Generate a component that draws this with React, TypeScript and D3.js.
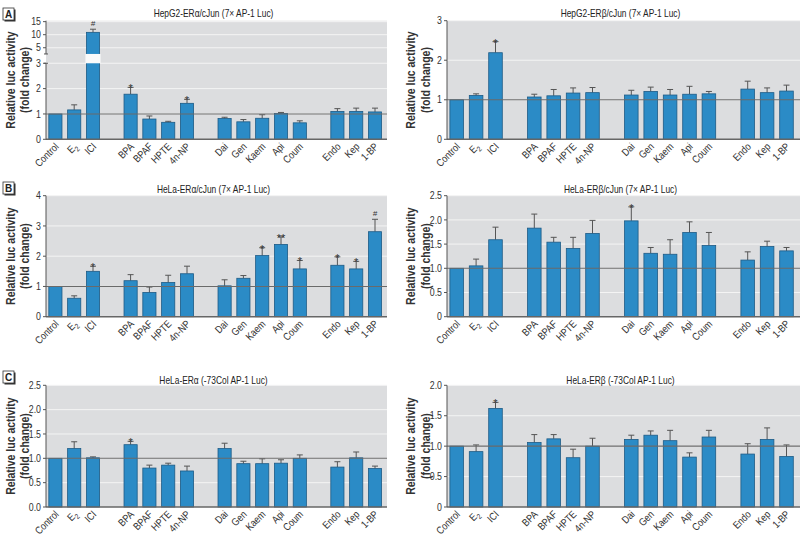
import React from "react";
import * as d3 from "d3";

const groups = [
  ["Control", "E2", "ICI"],
  ["BPA", "BPAF", "HPTE", "4n-NP"],
  ["Dai", "Gen", "Kaem", "Api", "Coum"],
  ["Endo", "Kep", "1-BP"],
];

// Panel A left: HepG2-ERα/cJun
const hepg2AlphaVals = [1.0, 1.16, 10.9, 1.78, 0.8, 0.67, 1.42, 0.82, 0.69, 0.83, 1.02, 0.65, 1.1, 1.1, 1.08];
const hepg2AlphaErr = [0, 0.2, 1.2, 0.27, 0.12, 0.04, 0.16, 0.05, 0.09, 0.14, 0.04, 0.08, 0.11, 0.13, 0.15];
const hepg2AlphaSig = ["", "", "#", "*", "", "", "*", "", "", "", "", "", "", "", ""];
// Panel A right: HepG2-ERβ/cJun
const hepg2BetaVals = [1.0, 1.11, 2.19, 1.07, 1.1, 1.17, 1.18, 1.12, 1.21, 1.12, 1.14, 1.15, 1.27, 1.18, 1.22];
const hepg2BetaErr = [0, 0.04, 0.28, 0.07, 0.16, 0.13, 0.13, 0.12, 0.11, 0.14, 0.2, 0.06, 0.2, 0.12, 0.15];
const hepg2BetaSig = ["", "", "*", "", "", "", "", "", "", "", "", "", "", "", ""];
// Panel B left: HeLa-ERα/cJun
const helaAlphaVals = [1.0, 0.61, 1.5, 1.19, 0.8, 1.13, 1.42, 1.02, 1.27, 2.02, 2.39, 1.58, 1.7, 1.58, 2.81];
const helaAlphaErr = [0, 0.08, 0.17, 0.2, 0.18, 0.24, 0.25, 0.2, 0.09, 0.26, 0.25, 0.28, 0.28, 0.25, 0.41];
const helaAlphaSig = ["", "", "*", "", "", "", "", "", "", "*", "**", "*", "*", "*", "#"];
// Panel B right: HeLa-ERβ/cJun
const helaBetaVals = [1.0, 1.05, 1.59, 1.83, 1.54, 1.41, 1.72, 1.98, 1.31, 1.29, 1.74, 1.47, 1.17, 1.45, 1.36];
const helaBetaErr = [0, 0.14, 0.26, 0.29, 0.1, 0.23, 0.27, 0.29, 0.12, 0.3, 0.22, 0.27, 0.17, 0.11, 0.07];
const helaBetaSig = ["", "", "", "", "", "", "", "*", "", "", "", "", "", "", ""];
// Panel C left: HeLa-ERα (-73Col)
const colAlphaVals = [1.0, 1.2, 1.01, 1.28, 0.8, 0.86, 0.74, 1.2, 0.89, 0.89, 0.9, 1.0, 0.82, 1.01, 0.79];
const colAlphaErr = [0, 0.14, 0.02, 0.07, 0.06, 0.04, 0.1, 0.11, 0.05, 0.1, 0.07, 0.07, 0.11, 0.12, 0.05];
const colAlphaSig = ["", "", "", "*", "", "", "", "", "", "", "", "", "", "", ""];
// Panel C right: HeLa-ERβ (-73Col)
const colBetaVals = [1.0, 0.91, 1.62, 1.06, 1.12, 0.81, 1.0, 1.11, 1.18, 1.09, 0.82, 1.15, 0.87, 1.11, 0.83];
const colBetaErr = [0, 0.11, 0.1, 0.13, 0.07, 0.14, 0.13, 0.07, 0.07, 0.17, 0.07, 0.11, 0.17, 0.19, 0.19];
const colBetaSig = ["", "", "*", "", "", "", "", "", "", "", "", "", "", "", ""];

const ticksA_left = [0, 1, 2, 3, 5, 10, 15];
const ticksA_right = [0, 1, 2, 3];
const ticksB_left = [0, 1, 2, 3, 4];
const ticksB_right = [0, 0.5, 1, 1.5, 2, 2.5];
const ticksC_left = [0, 0.5, 1, 1.5, 2, 2.5];
const ticksC_right = [0, 0.5, 1, 1.5, 2];

const FONT = "'Liberation Sans',Arial,sans-serif";
const SX = 0.84; // horizontal condensing to mimic a narrow face
const BG = "#dcdddf";
const BAR = "#2b8bc6";
const BAR_STROKE = "#1d5a85";

const slotKeys: string[] = [];
groups.forEach((g, i) => {
  if (i > 0) slotKeys.push("_gap" + i);
  g.forEach((c) => slotKeys.push(c));
});
const categories = groups.flat();

type PanelProps = {
  x0: number; x1: number; step: number; top: number; bottom: number;
  title: string; titleY: number; labelX: number;
  values: number[]; errors: number[]; sig: string[];
  ticks: number[]; fmt: (v: number) => string;
  domain: number[]; rangeFrac: number[];
  brk?: [number, number];
};

function Panel(p: PanelProps) {
  const h = p.bottom - p.top;
  const y = d3.scaleLinear().domain(p.domain).range(p.rangeFrac.map((f) => p.bottom - f * h));
  const x = d3.scaleBand().domain(slotKeys).range([p.x0, p.x0 + slotKeys.length * p.step]).paddingInner(0.3).paddingOuter(0.15);
  const bw = x.bandwidth();
  const cy = (p.top + p.bottom) / 2;
  return (
    <g>
      <rect x={p.x0} y={p.top} width={p.x1 - p.x0} height={h} fill={BG} />
      {p.ticks.filter((t) => t > 0).map((t, i) => (
        <line key={i} x1={p.x0} x2={p.x1} y1={y(t)} y2={y(t)} stroke="#f4f4f4" strokeWidth={1} />
      ))}
      {categories.map((c, i) => {
        const v = p.values[i];
        const e = p.errors[i];
        const xc = (x(c) as number) + bw / 2;
        const yTop = y(v);
        const yErr = y(v + e);
        return (
          <g key={c}>
            {e > 0 && (
              <g stroke="#555" strokeWidth={1}>
                <line x1={xc} x2={xc} y1={yTop} y2={yErr} />
                <line x1={xc - 3} x2={xc + 3} y1={yErr} y2={yErr} />
              </g>
            )}
            <rect x={x(c)} y={yTop} width={bw} height={p.bottom - yTop} fill={BAR} stroke={BAR_STROKE} strokeWidth={0.8} />
            {p.brk && v > p.brk[1] && (
              <rect x={(x(c) as number) - 1} y={y(p.brk[1])} width={bw + 2} height={y(p.brk[0]) - y(p.brk[1])} fill="#fafafa" />
            )}
            {p.sig[i] && (
              <text x={xc} y={p.sig[i] === "#" ? yErr - 3 : yErr + 5} textAnchor="middle" fontFamily={FONT}
                fontSize={p.sig[i] === "#" ? 8 : 11} fontStyle={p.sig[i] === "#" ? "italic" : "normal"} fill="#333">
                {p.sig[i]}
              </text>
            )}
            <text transform={`translate(${xc + 4},${p.bottom + 8}) rotate(-45) scale(${SX},1)`} textAnchor="end" fontFamily={FONT} fontSize={10.5} fill="#333">
              {c === "E2" ? (<><tspan>E</tspan><tspan fontSize={7.5} dy={3}>2</tspan></>) : c}
            </text>
          </g>
        );
      })}
      <line x1={p.x0} x2={p.x1} y1={y(1)} y2={y(1)} stroke="#6a6a6a" strokeWidth={1.1} />
      <line x1={p.x0} x2={p.x1} y1={p.bottom} y2={p.bottom} stroke="#666" strokeWidth={1.5} />
      {p.brk ? (
        <g stroke="#555" strokeWidth={1}>
          <line x1={p.x0} x2={p.x0} y1={p.top} y2={y(p.brk[1])} />
          <line x1={p.x0 - 2} x2={p.x0 + 2} y1={y(p.brk[1])} y2={y(p.brk[1])} />
          <line x1={p.x0} x2={p.x0} y1={y(p.brk[0])} y2={p.bottom} />
          <line x1={p.x0 - 2} x2={p.x0 + 2} y1={y(p.brk[0])} y2={y(p.brk[0])} />
        </g>
      ) : (
        <line x1={p.x0} x2={p.x0} y1={p.top} y2={p.bottom} stroke="#555" strokeWidth={1} />
      )}
      {p.ticks.map((t, i) => (
        <g key={i}>
          <line x1={p.x0 - 3} x2={p.x0} y1={y(t)} y2={y(t)} stroke="#555" />
          <text transform={`translate(${p.x0 - 5},${y(t)}) scale(${SX},1)`} dy="0.35em" textAnchor="end" fontFamily={FONT} fontSize={10.5} fill="#333">{p.fmt(t)}</text>
        </g>
      ))}
      <text transform={`translate(${(p.x0 + p.x1) / 2 - 3},${p.titleY}) scale(${SX},1)`} textAnchor="middle" fontFamily={FONT} fontSize={10} fill="#222">{p.title}</text>
      <g fontFamily={FONT} fontWeight="bold" fontSize={12.5} fill="#333" textAnchor="middle">
        <text transform={`translate(${p.labelX},${cy}) rotate(-90) scale(${SX},1)`}>Relative luc activity</text>
        <text transform={`translate(${p.labelX + 14.5},${cy}) rotate(-90) scale(${SX},1)`}>(fold change)</text>
      </g>
    </g>
  );
}

function PanelLabel({ x, y, label }: { x: number; y: number; label: string }) {
  return (
    <g>
      <rect x={x + 1.5} y={y + 1.5} width={11} height={12} fill="#333" />
      <rect x={x} y={y} width={11} height={12} fill="#fff" stroke="#333" strokeWidth={0.8} />
      <text x={x + 5.5} y={y + 10} textAnchor="middle" fontFamily={FONT} fontWeight="bold" fontSize={10} fill="#222">{label}</text>
    </g>
  );
}

const f0 = (v: number) => d3.format("d")(v);
const f1 = (v: number) => d3.format(".1f")(v);
const fMix = (v: number) => (v === 0 ? "0" : d3.format(".1f")(v));

export default function App() {
  const L = { x0: 46, x1: 387, step: 18.8, labelX: 14.5 };
  const R = { x0: 447, x1: 800, step: 19.4, labelX: 415 };
  const rowA = { top: 20.7, bottom: 139.3, titleY: 17 };
  const rowB = { top: 195.7, bottom: 316.7, titleY: 193 };
  const rowC = { top: 385.3, bottom: 507, titleY: 384 };
  return (
    <svg width={800} height={537} style={{ position: "absolute", left: 0, top: 0, background: "#fff" }}>
      <Panel {...L} {...rowA} title="HepG2-ERα/cJun (7× AP-1 Luc)" values={hepg2AlphaVals} errors={hepg2AlphaErr} sig={hepg2AlphaSig}
        ticks={ticksA_left} fmt={f0} domain={[0, 3, 5, 15]} rangeFrac={[0, 0.641, 0.772, 0.992]} brk={[3, 4.2]} />
      <Panel {...R} {...rowA} title="HepG2-ERβ/cJun (7× AP-1 Luc)" values={hepg2BetaVals} errors={hepg2BetaErr} sig={hepg2BetaSig}
        ticks={ticksA_right} fmt={f0} domain={[0, 3]} rangeFrac={[0, 1]} />
      <Panel {...L} {...rowB} title="HeLa-ERα/cJun (7× AP-1 Luc)" values={helaAlphaVals} errors={helaAlphaErr} sig={helaAlphaSig}
        ticks={ticksB_left} fmt={f0} domain={[0, 4]} rangeFrac={[0, 1]} />
      <Panel {...R} {...rowB} title="HeLa-ERβ/cJun (7× AP-1 Luc)" values={helaBetaVals} errors={helaBetaErr} sig={helaBetaSig}
        ticks={ticksB_right} fmt={fMix} domain={[0, 2.5]} rangeFrac={[0, 1]} />
      <Panel {...L} {...rowC} title="HeLa-ERα (-73Col AP-1 Luc)" values={colAlphaVals} errors={colAlphaErr} sig={colAlphaSig}
        ticks={ticksC_left} fmt={f1} domain={[0, 2.5]} rangeFrac={[0, 1]} />
      <Panel {...R} {...rowC} title="HeLa-ERβ (-73Col AP-1 Luc)" values={colBetaVals} errors={colBetaErr} sig={colBetaSig}
        ticks={ticksC_right} fmt={fMix} domain={[0, 2]} rangeFrac={[0, 1]} />
      <PanelLabel x={3} y={8} label="A" />
      <PanelLabel x={3} y={182} label="B" />
      <PanelLabel x={3} y={371} label="C" />
    </svg>
  );
}
